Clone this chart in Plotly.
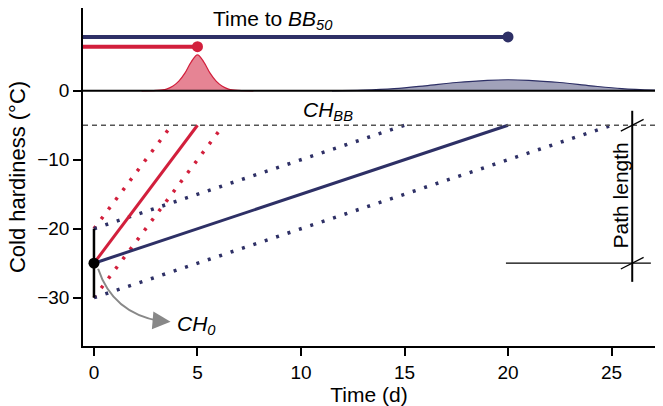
import plotly.graph_objects as go

# ---- data ----
x_range = [-0.53, 27.1]
y_range = [-37, 12]

ch0 = -25          # initial cold hardiness
ch0_err = [-20, -30]
ch_bb = -5         # cold hardiness at budbreak

red_end = 5        # time to BB50, fast
navy_end = 20      # time to BB50, slow
red_bar_y = 6.4
navy_bar_y = 7.8

# bell-shaped distributions (x, height)
red_dist_x = [2.3, 3.0, 3.5, 3.8, 4.1, 4.4, 4.7, 5.0, 5.3, 5.6, 5.9, 6.2, 6.5, 7.0, 7.7]
red_dist_y = [0.0, 0.05, 0.25, 0.65, 1.4, 2.6, 4.2, 5.2, 4.2, 2.6, 1.4, 0.65, 0.25, 0.05, 0.0]
navy_dist_x = [11.5, 13.0, 14.5, 16.0, 17.5, 19.0, 20.0, 21.0, 22.5, 24.0, 25.5, 27.1]
navy_dist_y = [0.0, 0.08, 0.3, 0.72, 1.2, 1.52, 1.6, 1.52, 1.2, 0.72, 0.3, 0.08]

# dotted offsets start
dot_starts = [-20, -30]

red = "#d21f3c"
red_fill = "rgba(210,31,60,0.55)"
navy = "#2e3066"
navy_fill = "rgba(46,48,102,0.45)"

FONT = "Liberation Sans, Arial, Helvetica, sans-serif"

fig = go.Figure()

# distributions
fig.add_trace(go.Scatter(x=red_dist_x, y=red_dist_y, mode="lines", line=dict(color=red, width=1.2, shape="spline"),
                         fill="tozeroy", fillcolor=red_fill, hoverinfo="skip"))
fig.add_trace(go.Scatter(x=navy_dist_x, y=navy_dist_y, mode="lines", line=dict(color=navy, width=1.2, shape="spline"),
                         fill="tozeroy", fillcolor=navy_fill, hoverinfo="skip"))

# time-to-BB50 bars
fig.add_trace(go.Scatter(x=[x_range[0], navy_end], y=[navy_bar_y, navy_bar_y], mode="lines",
                         line=dict(color=navy, width=4), hoverinfo="skip", cliponaxis=False))
fig.add_trace(go.Scatter(x=[navy_end], y=[navy_bar_y], mode="markers",
                         marker=dict(color=navy, size=11), hoverinfo="skip"))
fig.add_trace(go.Scatter(x=[x_range[0], red_end], y=[red_bar_y, red_bar_y], mode="lines",
                         line=dict(color=red, width=4), hoverinfo="skip", cliponaxis=False))
fig.add_trace(go.Scatter(x=[red_end], y=[red_bar_y], mode="markers",
                         marker=dict(color=red, size=11), hoverinfo="skip"))

# zero line
fig.add_shape(type="line", xref="paper", x0=0, x1=1, yref="y", y0=0, y1=0,
              line=dict(color="black", width=2))
# CH_BB dashed line
fig.add_shape(type="line", xref="paper", x0=0, x1=1, yref="y", y0=ch_bb, y1=ch_bb,
              line=dict(color="#555555", width=1.5, dash="5px,4px"))

# dotted paths (parallel)
red_slope = (ch_bb - ch0) / red_end
navy_slope = (ch_bb - ch0) / navy_end
for s in dot_starts:
    fig.add_trace(go.Scatter(x=[0, (ch_bb - s) / red_slope], y=[s, ch_bb], mode="lines",
                             line=dict(color=red, width=3.5, dash="3px,9px"), hoverinfo="skip"))
    fig.add_trace(go.Scatter(x=[0, (ch_bb - s) / navy_slope], y=[s, ch_bb], mode="lines",
                             line=dict(color=navy, width=3.5, dash="3px,9px"), hoverinfo="skip"))

# solid paths
fig.add_trace(go.Scatter(x=[0, navy_end], y=[ch0, ch_bb], mode="lines",
                         line=dict(color=navy, width=3), hoverinfo="skip"))
fig.add_trace(go.Scatter(x=[0, red_end], y=[ch0, ch_bb], mode="lines",
                         line=dict(color=red, width=3), hoverinfo="skip"))

# CH0 error bar and point
fig.add_trace(go.Scatter(x=[0, 0], y=ch0_err, mode="lines", line=dict(color="black", width=2.5), hoverinfo="skip"))
fig.add_trace(go.Scatter(x=[0], y=[ch0], mode="markers", marker=dict(color="black", size=11), hoverinfo="skip"))

# curved gray arrow to CH0 label
fig.add_shape(type="path", path="M 0.2,-25.8 Q 0.9,-32.2 3.2,-33.4",
              line=dict(color="#888888", width=2))
fig.add_annotation(x=3.7, y=-33.5, ax=2.9, ay=-33.3, xref="x", yref="y", axref="x", ayref="y",
                   text="", showarrow=True, arrowhead=2, arrowsize=1.8, arrowwidth=2, arrowcolor="#888888")

# path length bracket
pl_x = 26.0
fig.add_shape(type="line", x0=pl_x, x1=pl_x, y0=-2.9, y1=-27.7, line=dict(color="black", width=2))
fig.add_shape(type="line", x0=19.9, x1=26.9, y0=ch0, y1=ch0, line=dict(color="black", width=1.3))
for yy in [ch_bb, ch0]:
    fig.add_shape(type="line", x0=pl_x - 0.55, x1=pl_x + 0.55, y0=yy - 0.85, y1=yy + 0.85,
                  line=dict(color="black", width=1.2))

# texts
tf = dict(family=FONT, size=21, color="black")
fig.add_annotation(x=8.65, y=10.3, text="Time to <i>BB<sub>50</sub></i>", showarrow=False, font=tf)
fig.add_annotation(x=10.0, y=-3.0, text="<i>CH<sub>BB</sub></i>", showarrow=False, font=tf, xanchor="left")
fig.add_annotation(x=3.9, y=-34.0, text="<i>CH<sub>0</sub></i>", showarrow=False, font=tf, xanchor="left")
fig.add_annotation(x=25.45, y=-15.2, text="Path length", showarrow=False, font=tf, textangle=-90)

fig.update_layout(
    width=663, height=406,
    margin=dict(l=83, r=8, t=8, b=60),
    paper_bgcolor="white", plot_bgcolor="white",
    showlegend=False,
    font=dict(family=FONT, size=19, color="black"),
    xaxis=dict(range=x_range, tickvals=[0, 5, 10, 15, 20, 25], showgrid=False, zeroline=False,
               showline=True, linecolor="black", linewidth=1.5, ticks="outside", ticklen=8,
               tickcolor="black", tickwidth=1.5,
               title=dict(text="Time (d)", font=dict(size=21), standoff=0)),
    yaxis=dict(range=y_range, tickvals=[0, -10, -20, -30], showgrid=False, zeroline=False,
               showline=True, linecolor="black", linewidth=1.5, ticks="outside", ticklen=8,
               tickcolor="black", tickwidth=1.5,
               title=dict(text="Cold hardiness (°C)", font=dict(size=22), standoff=6)),
)

fig.write_html("out.html")
